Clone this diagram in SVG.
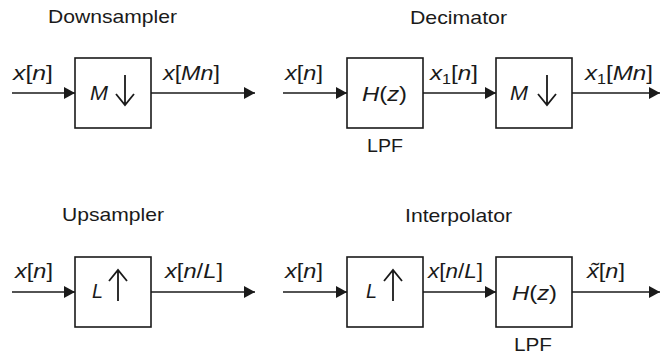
<svg xmlns="http://www.w3.org/2000/svg" width="661" height="354" viewBox="0 0 661 354">
<defs>
<marker id="ah" markerWidth="11" markerHeight="12" refX="11" refY="6" orient="auto" markerUnits="userSpaceOnUse">
<path d="M0,0 L11,6 L0,12 Z" fill="#1a1a1a"/>
</marker>
<path id="dn" d="M0,0 V30 M-9,19 L0,30 L9,19"/>
<path id="up" d="M0,31 V0 M-9,11 L0,0 L9,11"/>
<style>
.box{fill:#fff;stroke:#1a1a1a;stroke-width:1.6}
.ln{stroke:#1a1a1a;stroke-width:1.6;fill:none;marker-end:url(#ah)}
.sym{stroke:#1a1a1a;stroke-width:1.8;fill:none}
.t{font-family:"Liberation Sans",Arial,sans-serif;font-size:18.5px;fill:#1a1a1a;text-anchor:middle}
.m{font-family:"Liberation Sans",Arial,sans-serif;font-size:21px;fill:#1a1a1a}
.i{font-style:italic}
</style>
</defs>
<g id="connectors">
<line class="ln" x1="12" y1="93" x2="75" y2="93"/>
<line class="ln" x1="151" y1="93" x2="255" y2="93"/>
<line class="ln" x1="283" y1="93" x2="347" y2="93"/>
<line class="ln" x1="423" y1="93" x2="496" y2="93"/>
<line class="ln" x1="572" y1="93" x2="660" y2="93"/>
<line class="ln" x1="12" y1="292" x2="75" y2="292"/>
<line class="ln" x1="151" y1="292" x2="255" y2="292"/>
<line class="ln" x1="283" y1="292" x2="347" y2="292"/>
<line class="ln" x1="423" y1="292" x2="496" y2="292"/>
<line class="ln" x1="572" y1="292" x2="660" y2="292"/>
</g>
<g id="titles">
<text class="t" x="112.5" y="23" textLength="129" lengthAdjust="spacingAndGlyphs">Downsampler</text>
<text class="t" x="458.5" y="24" textLength="97" lengthAdjust="spacingAndGlyphs">Decimator</text>
<text class="t" x="113" y="221" textLength="102" lengthAdjust="spacingAndGlyphs">Upsampler</text>
<text class="t" x="458.5" y="222" textLength="107" lengthAdjust="spacingAndGlyphs">Interpolator</text>
</g>
<g id="labels">
<text class="m" x="13" y="80" textLength="40" lengthAdjust="spacingAndGlyphs"><tspan class="i">x</tspan>[<tspan class="i">n</tspan>]</text>
<text class="m" x="163" y="80" textLength="57" lengthAdjust="spacingAndGlyphs"><tspan class="i">x</tspan>[<tspan class="i">Mn</tspan>]</text>
<text class="m" x="285" y="80" textLength="38" lengthAdjust="spacingAndGlyphs"><tspan class="i">x</tspan>[<tspan class="i">n</tspan>]</text>
<text class="m" x="430" y="80" textLength="48" lengthAdjust="spacingAndGlyphs"><tspan class="i">x</tspan><tspan font-size="14" dy="4">1</tspan><tspan dy="-4">[</tspan><tspan class="i">n</tspan>]</text>
<text class="m" x="585" y="80" textLength="68" lengthAdjust="spacingAndGlyphs"><tspan class="i">x</tspan><tspan font-size="14" dy="4">1</tspan><tspan dy="-4">[</tspan><tspan class="i">Mn</tspan>]</text>
<text class="m" x="15" y="278" textLength="38" lengthAdjust="spacingAndGlyphs"><tspan class="i">x</tspan>[<tspan class="i">n</tspan>]</text>
<text class="m" x="165" y="278" textLength="58" lengthAdjust="spacingAndGlyphs"><tspan class="i">x</tspan>[<tspan class="i">n</tspan>/<tspan class="i">L</tspan>]</text>
<text class="m" x="285" y="278" textLength="38" lengthAdjust="spacingAndGlyphs"><tspan class="i">x</tspan>[<tspan class="i">n</tspan>]</text>
<text class="m" x="428" y="278" textLength="55" lengthAdjust="spacingAndGlyphs"><tspan class="i">x</tspan>[<tspan class="i">n</tspan>/<tspan class="i">L</tspan>]</text>
<text class="m" x="587" y="278" textLength="38" lengthAdjust="spacingAndGlyphs"><tspan class="i">x̃</tspan>[<tspan class="i">n</tspan>]</text>
<text class="t" x="385" y="152" textLength="36" lengthAdjust="spacingAndGlyphs">LPF</text>
<text class="t" x="533" y="351" textLength="38" lengthAdjust="spacingAndGlyphs">LPF</text>
</g>
<g id="downsampler">
<rect class="box" x="75" y="58" width="76" height="70"/>
<text class="m i" x="90" y="100" textLength="18" lengthAdjust="spacingAndGlyphs">M</text>
<use href="#dn" class="sym" x="125" y="75"/>
</g>
<g id="decimator-lpf">
<rect class="box" x="347" y="58" width="76" height="70"/>
<text class="m" x="362" y="101" textLength="45" lengthAdjust="spacingAndGlyphs"><tspan class="i">H</tspan>(<tspan class="i">z</tspan>)</text>
</g>
<g id="decimator-down">
<rect class="box" x="496" y="58" width="76" height="70"/>
<text class="m i" x="510" y="100" textLength="18" lengthAdjust="spacingAndGlyphs">M</text>
<use href="#dn" class="sym" x="547" y="75"/>
</g>
<g id="upsampler">
<rect class="box" x="75" y="257" width="76" height="70"/>
<text class="m i" x="92" y="298" textLength="11" lengthAdjust="spacingAndGlyphs">L</text>
<use href="#up" class="sym" x="118" y="270"/>
</g>
<g id="interp-up">
<rect class="box" x="347" y="257" width="76" height="70"/>
<text class="m i" x="366" y="298" textLength="11" lengthAdjust="spacingAndGlyphs">L</text>
<use href="#up" class="sym" x="393" y="270"/>
</g>
<g id="interp-lpf">
<rect class="box" x="496" y="257" width="76" height="70"/>
<text class="m" x="512" y="300" textLength="45" lengthAdjust="spacingAndGlyphs"><tspan class="i">H</tspan>(<tspan class="i">z</tspan>)</text>
</g>
</svg>
